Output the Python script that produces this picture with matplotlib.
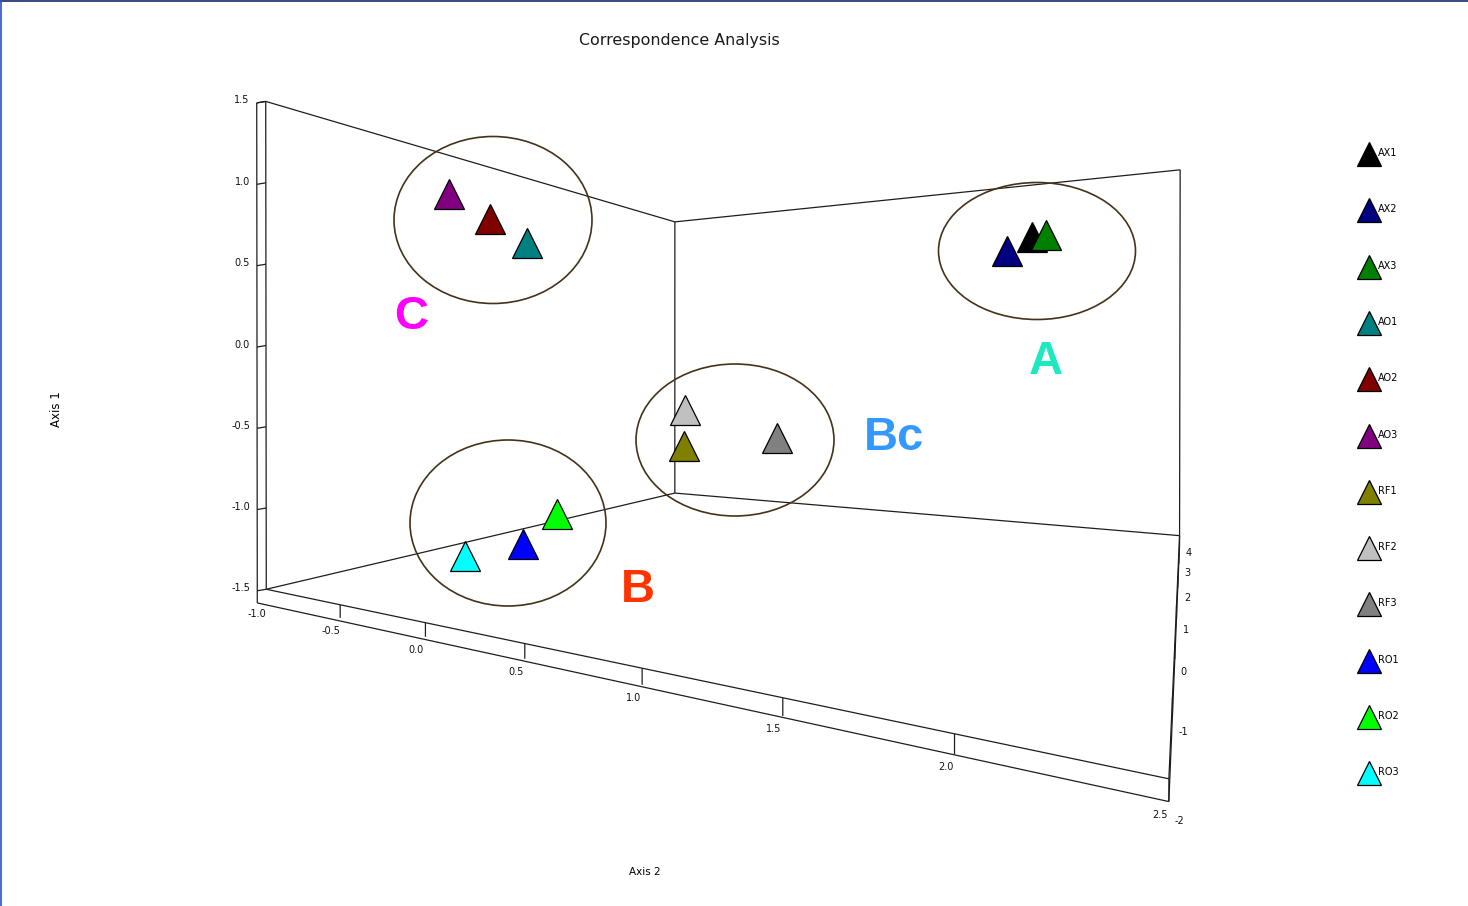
import numpy as np
import matplotlib
matplotlib.use('Agg')
import matplotlib.pyplot as plt
from matplotlib.patches import Ellipse

# --- DATOS (coordenadas del análisis de correspondencias) ---
muestras = ['AX1', 'AX2', 'AX3', 'AO1', 'AO2', 'AO3', 'RF1', 'RF2', 'RF3', 'RO1', 'RO2', 'RO3']
eje1 = [0.80, 0.60, 0.93, 0.63, 1.00, 1.00, -0.65, -0.45, -0.57, -1.22, -1.19, -1.11]
eje2 = [1.85, 1.83, 1.84, 0.00, -0.77, -0.48, 0.47, 0.13, 0.95, -0.02, -0.30, 0.21]
eje3 = [2, 1, 3, -1, 0, -1, 0, 1, 0, -1, 0, -2]
colores = ['#000000', '#000080', '#008000', '#008080', '#800000', '#800080',
           '#808000', '#c0c0c0', '#808080', '#0000ff', '#00ff00', '#00ffff']

ticks_eje1 = [-1.5, -1.0, -0.5, 0.0, 0.5, 1.0, 1.5]
ticks_eje2 = [-1.0, -0.5, 0.0, 0.5, 1.0, 1.5, 2.0, 2.5]
ticks_eje3 = [-2, -1, 0, 1, 2, 3, 4]

grupos = ['C', 'A', 'Bc', 'B']
colores_grupo = ['#ff00ff', '#1de9c0', '#3399ff', '#ff3300']

# --- VISTA EN PERSPECTIVA ---
# esquinas de la caja (eje2, eje1, eje3) y su posición en pantalla
X0, X1 = ticks_eje2[0], ticks_eje2[-1]
Y0, Y1 = ticks_eje1[0], ticks_eje1[-1]
Z0, Z1 = ticks_eje3[0], ticks_eje3[-1]
vista_mundo = [(X0, Y1, Z0), (X0, Y0, Z0), (X0, Y1, Z1), (X0, Y0, Z1), (X1, Y1, Z1), (X1, Y0, Z1),
               (X1, Y0, Z0), (0, Y0, Z0), (1, Y0, Z0), (2, Y0, Z0), (X0, 0, Z0),
               (-0.5, Y0, Z0), (0.5, Y0, Z0), (1.5, Y0, Z0)]
vista_px = [(265.7, 100.7), (266.7, 589.3), (675, 222), (674.5, 493.3), (1180, 170), (1180, 535),
            (1168, 780), (425, 622.7), (643, 667), (954, 735), (266, 346),
            (340, 605), (525, 642.7), (783, 698)]


def ajustar_camara(mundo, px):
    filas = []
    for (X, Y, Z), (u, v) in zip(mundo, px):
        u, v = u / 1000, v / 1000
        filas.append([X, Y, Z, 1, 0, 0, 0, 0, -u * X, -u * Y, -u * Z, -u])
        filas.append([0, 0, 0, 0, X, Y, Z, 1, -v * X, -v * Y, -v * Z, -v])
    _, _, vt = np.linalg.svd(np.array(filas))
    return vt[-1].reshape(3, 4)


P = ajustar_camara(vista_mundo, vista_px)


def proy(X, Y, Z):
    h = P @ np.array([X, Y, Z, 1.0])
    return np.array([h[0] / h[2] * 1000, h[1] / h[2] * 1000])


fig = plt.figure(figsize=(14.68, 9.06), dpi=100)
ax = fig.add_axes([0, 0, 1, 1])
ax.set_xlim(0, 1468)
ax.set_ylim(906, 0)
ax.axis('off')

LC = '#1e1e1e'
LW = 0.9


def segmento(a, b, **kw):
    ax.plot([a[0], b[0]], [a[1], b[1]], color=LC, lw=LW, solid_capstyle='butt', **kw)


# --- CAJA: pared izquierda, pared del fondo y suelo ---
aristas = [((X0, Y1, Z0), (X0, Y1, Z1)), ((X0, Y0, Z0), (X0, Y0, Z1)), ((X0, Y1, Z1), (X0, Y0, Z1)),
           ((X0, Y1, Z1), (X1, Y1, Z1)), ((X0, Y0, Z1), (X1, Y0, Z1)), ((X1, Y1, Z1), (X1, Y0, Z1)),
           ((X0, Y1, Z0), (X0, Y0, Z0)), ((X0, Y0, Z0), (X1, Y0, Z0)), ((X1, Y0, Z0), (X1, Y0, Z1))]
for a, b in aristas:
    segmento(proy(*a), proy(*b))

# barras de los ejes
DY = 0.075
off = np.array([-9.0, 1.5])
sup_izq = proy(X0, Y1, Z0)
inf_izq = proy(X0, Y0 - DY, Z0) + off
segmento(sup_izq + off, sup_izq)
segmento(sup_izq + off, inf_izq)
segmento(inf_izq, proy(X1, Y0 - DY, Z0))
segmento(proy(X1, Y0 - DY, Z0), proy(X1, Y0, Z0))
segmento(proy(X1, Y0 - DY, Z0), proy(X1, Y0 - DY, Z1))
segmento(proy(X1, Y0 - DY, Z1), proy(X1, Y0, Z1))

fuente_ticks = dict(fontsize=7, family='DejaVu Sans', color='#111111')
for y in ticks_eje1:
    p = proy(X0, y, Z0)
    segmento(p + off, p)
    ax.text(p[0] - 16, p[1] - 1, f'{y:.1f}', ha='right', va='center', **fuente_ticks)
for x in ticks_eje2:
    if X0 < x < X1:
        segmento(proy(x, Y0, Z0), proy(x, Y0 - DY, Z0))
    p = proy(x, Y0 - DY, Z0)
    ax.text(p[0] - 9, p[1] + 13, f'{x:.1f}', ha='center', va='center', **fuente_ticks)
for z in ticks_eje3:
    if Z0 < z < Z1:
        segmento(proy(X1, Y0, z), proy(X1, Y0 - DY, z), )
    p = proy(X1, Y0 - 0.14, z)
    ax.text(p[0] + 6, p[1], f'{z:d}', ha='left', va='center', **fuente_ticks)

# --- PUNTOS ---
for x, y, z, c in zip(eje2, eje1, eje3, colores):
    u, v = proy(x, y, z)
    ax.plot(u, v, marker='^', ms=21, color=c, mec='black', mew=0.9, zorder=5)

# --- AGRUPACIONES ---
elipses = [((493, 220), 198, 167), ((1037, 251), 197, 137), ((735, 440), 198, 152), ((508, 523), 196, 166)]
for (centro, w, h) in elipses:
    ax.add_patch(Ellipse(centro, w, h, fill=False, edgecolor='#45321a', lw=1.2, zorder=6))
pos_grupos = [(411, 317), (1046, 362), (894, 438), (638, 590)]
for g, c, (gx, gy) in zip(grupos, colores_grupo, pos_grupos):
    ax.text(gx, gy, g, color=c, fontsize=34, weight='bold', family='Liberation Sans',
            ha='center', va='center')

# --- LEYENDA ---
for i, (m, c) in enumerate(zip(muestras, colores)):
    yl = 154 + 56.3 * i
    ax.plot(1369, yl, marker='^', ms=17, color=c, mec='black', mew=0.9)
    ax.text(1378, yl - 1, m, fontsize=7, family='DejaVu Sans', ha='left', va='center')

# --- TEXTOS ---
ax.text(679, 40, 'Correspondence Analysis', fontsize=11.4, family='DejaVu Sans',
        ha='center', va='center', color='#1a1a1a')
ax.text(56, 409, 'Axis 1', fontsize=8.5, family='DejaVu Sans', rotation=90, ha='center', va='center')
ax.text(645, 872, 'Axis 2', fontsize=7.5, family='DejaVu Sans', ha='center', va='center')

# borde de la figura
ax.plot([0, 1468], [0.6, 0.6], color='#14286e', lw=1.2)
ax.plot([0.6, 0.6], [0, 906], color='#2a50c8', lw=1.2)

fig.savefig('out.png', dpi=100)
plt.close(fig)
